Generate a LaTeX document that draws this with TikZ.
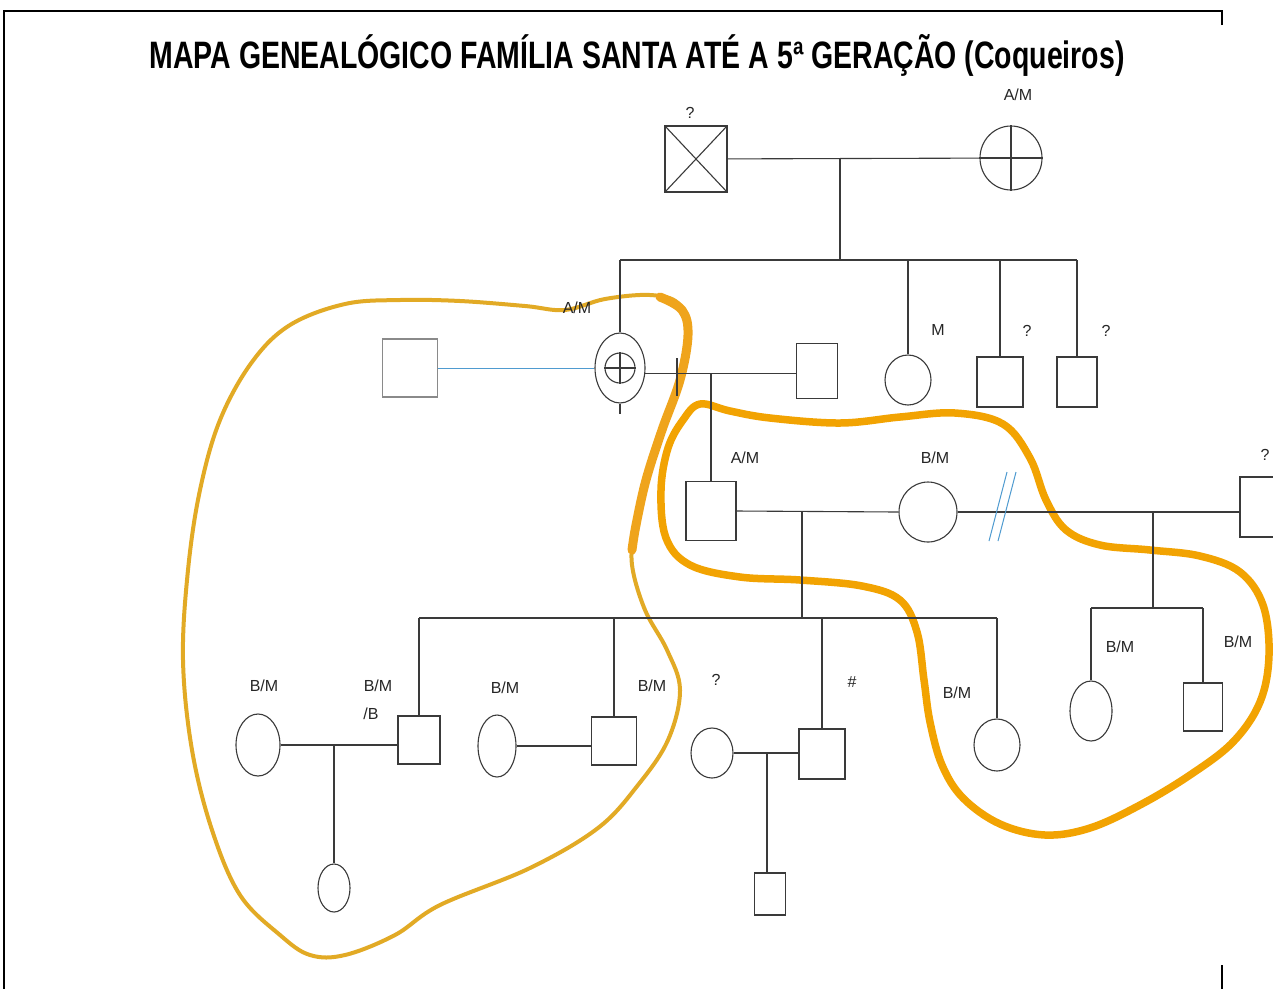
\documentclass[tikz,border=0pt]{standalone}
\usepackage{fontspec}
\setmainfont{Liberation Sans}
\usetikzlibrary{shapes.geometric}
\definecolor{ln}{HTML}{3A3A3A}
\definecolor{lnl}{HTML}{8A8A8A}
\definecolor{tx}{HTML}{262626}
\definecolor{bl}{HTML}{4F9BD0}
\definecolor{gold}{HTML}{E2AA25}
\definecolor{gold2}{HTML}{EFA41C}
\definecolor{org}{HTML}{F2A302}
\tikzset{
  sq/.style={draw=ln, line width=1.1pt, rectangle, inner sep=0pt},
  el/.style={draw=ln, line width=1.1pt, ellipse, inner sep=0pt},
  con/.style={draw=ln, line width=1.1pt},
  lab/.style={font=\fontsize{16}{16}\selectfont, text=tx, inner sep=0pt},
  frame/.style={line width=1.6pt, black},
  hl/.style={line width=4pt, gold, line cap=round, line join=round},
  hlthick/.style={line width=9pt, gold2, line cap=round, line join=round},
  hl2/.style={line width=7.5pt, org, line cap=round, line join=round}
}
\begin{document}
\begin{tikzpicture}[x=1pt,y=-1pt]
\useasboundingbox (0,0) rectangle (1273,989);
\fill[white] (0,0) rectangle (1273,989);
% frame
\draw[frame] (1222,25) -- (1222,11) -- (4,11) -- (4,989);
\draw[frame] (1222,965) -- (1222,989);
% title
\node[inner sep=0pt, anchor=base] (title) at (637,68) {\resizebox{975pt}{34pt}{\bfseries MAPA GENEALÓGICO FAMÍLIA SANTA ATÉ A 5ª GERAÇÃO (Coqueiros)}};

% ---------- highlight outlines ----------
\draw[hl] plot[smooth cycle, tension=0.6] coordinates {
 (345,304) (400,300) (460,301) (525,306) (565,310) (605,299) (650,295) (678,303)
 (688,330) (680,380) (662,430) (646,480) (635,530) (632,565) (645,610) (667,650)
 (680,690) (668,740) (638,785) (598,828) (530,868) (440,905) (395,935) (345,955)
 (310,955) (280,935) (240,895) (212,830) (192,750) (183,660) (188,570) (200,490)
 (220,420) (252,362) (290,325)};
\draw[hlthick] plot[smooth, tension=0.6] coordinates {
 (660,297) (682,310) (688,335) (680,380) (662,430) (646,480) (636,525) (632,550)};
\draw[hl2] plot[smooth cycle, tension=0.6] coordinates {
 (700,404) (730,411) (770,418) (840,423) (900,417) (955,413) (1003,424) (1030,458)
 (1046,500) (1066,530) (1100,545) (1150,550) (1200,556) (1240,572) (1263,605)
 (1269,655) (1260,702) (1233,742) (1190,775) (1140,805) (1090,828) (1045,835)
 (1000,824) (963,798) (942,765) (930,722) (924,680) (917,632) (900,600) (862,586)
 (800,580) (740,577) (690,565) (666,538) (661,490) (668,448) (683,420)};

% ---------- generation 1 ----------
\node[sq, minimum width=62pt, minimum height=66pt] (gm) at (696,159) {};
\draw[con] (gm.north west) -- (gm.south east) (gm.north east) -- (gm.south west);
\node[el, minimum width=62pt, minimum height=64pt] (gf) at (1011,158) {};
\draw[con] (gf.north) -- (gf.south) (gf.west) -- (gf.east);
\node[lab] (lgm) at (690,113) {?};
\node[lab] (lgf) at (1018,95) {A/M};
\draw[con] (gm) -- (gf);
\coordinate (m1) at (840,158);
\coordinate (s1) at (840,260);
\draw[con] (m1) -- (s1);

% ---------- generation 2 ----------
\node[el, minimum width=50pt, minimum height=70pt] (a) at (620,368) {};
\node[circle, draw=ln, line width=1.1pt, minimum size=30pt, inner sep=0pt] (ai) at (620,368) {};
\draw[con] (ai.north) -- (ai.south) (ai.west) -- (ai.east);
\draw[con] (a.south) -- ++(0,10);
\node[lab] (la) at (577,308) {A/M};
\node[sq, draw=lnl, minimum width=55pt, minimum height=58pt] (sp) at (410,368) {};
\draw[bl, line width=1pt] (sp) -- (a);
\node[sq, minimum width=41pt, minimum height=55pt] (h) at (817,371) {};
\draw[con] (a.-12) -- (a.-12 -| h.west);
\draw[con] (677,358) -- (677,396);
\node[el, minimum width=46pt, minimum height=50pt] (cm) at (908,380) {};
\node[lab] (lcm) at (938,330) {M};
\node[sq, minimum width=46pt, minimum height=50pt] (cq1) at (1000,382) {};
\node[lab] (lcq1) at (1027,331) {?};
\node[sq, minimum width=40pt, minimum height=50pt] (cq2) at (1077,382) {};
\node[lab] (lcq2) at (1106,331) {?};
\draw[con] (a.north |- s1) -- (cq2.north |- s1);
\draw[con] (a.north |- s1) -- (a.north);
\draw[con] (cm.north |- s1) -- (cm.north);
\draw[con] (cq1.north |- s1) -- (cq1.north);
\draw[con] (cq2.north |- s1) -- (cq2.north);

% ---------- generation 3 ----------
\node[sq, minimum width=50pt, minimum height=59pt] (b) at (711,511) {};
\node[lab] (lb) at (745,458) {A/M};
\draw[con] (b.north |- a.-12) -- (b.north);
\node[el, minimum width=58pt, minimum height=60pt] (w) at (928,512) {};
\node[lab] (lw) at (935,458) {B/M};
\node[sq, minimum width=56pt, minimum height=60pt] (x) at (1268,507) {};
\node[lab] (lx) at (1265,455) {?};
\draw[con] (b.east) -- (w.west);
\draw[con] (w.east) -- (w.east -| x.west);
\draw[bl, line width=1pt] (989,541) -- (1007,472);
\draw[bl, line width=1pt] (998,541) -- (1016,472);
\coordinate (m3) at (802,512);
\coordinate (s3) at (802,618);
\draw[con] (m3) -- (s3);
\coordinate (m4) at (1153,512);
\coordinate (s4) at (1153,608);
\draw[con] (m4) -- (s4);

% ---------- generation 4 ----------
\node[el, minimum width=44pt, minimum height=62pt] (e1) at (258,745) {};
\node[lab] (le1) at (264,686) {B/M};
\node[sq, minimum width=42pt, minimum height=48pt] (q1) at (419,740) {};
\node[lab] (lq1) at (378,686) {B/M};
\node[lab] (lq1b) at (371,714) {/B};
\draw[con] (e1.east) -- (e1.east -| q1.west);
\coordinate (m5) at (334,745);
\node[el, minimum width=32pt, minimum height=48pt] (k1) at (334,888) {};
\draw[con] (m5) -- (k1.north);

\node[el, minimum width=38pt, minimum height=62pt] (e2) at (497,746) {};
\node[lab] (le2) at (505,688) {B/M};
\node[sq, minimum width=45pt, minimum height=48pt] (q2) at (614,741) {};
\node[lab] (lq2) at (652,686) {B/M};
\draw[con] (e2.east) -- (e2.east -| q2.west);

\node[el, minimum width=42pt, minimum height=50pt] (e3) at (712,753) {};
\node[lab] (le3) at (716,680) {?};
\node[sq, minimum width=46pt, minimum height=50pt] (q3) at (822,754) {};
\node[lab] (lq3) at (852,682) {\#};
\draw[con] (e3.east) -- (e3.east -| q3.west);
\coordinate (m6) at (767,753);
\node[sq, minimum width=31pt, minimum height=42pt] (k2) at (770,894) {};
\draw[con] (m6) -- (m6 |- k2.north);

\node[el, minimum width=46pt, minimum height=52pt] (e5) at (997,745) {};
\node[lab] (le5) at (957,693) {B/M};

\draw[con] (q1.north |- s3) -- (e5.north |- s3);
\draw[con] (q1.north |- s3) -- (q1.north);
\draw[con] (q2.north |- s3) -- (q2.north);
\draw[con] (q3.north |- s3) -- (q3.north);
\draw[con] (e5.north |- s3) -- (e5.north);

\node[el, minimum width=42pt, minimum height=60pt] (e6) at (1091,711) {};
\node[lab] (le6) at (1120,647) {B/M};
\node[sq, minimum width=39pt, minimum height=48pt] (q6) at (1203,707) {};
\node[lab] (lq6) at (1238,642) {B/M};
\draw[con] (e6.north |- s4) -- (q6.north |- s4);
\draw[con] (e6.north |- s4) -- (e6.north);
\draw[con] (q6.north |- s4) -- (q6.north);
\end{tikzpicture}
\end{document}
